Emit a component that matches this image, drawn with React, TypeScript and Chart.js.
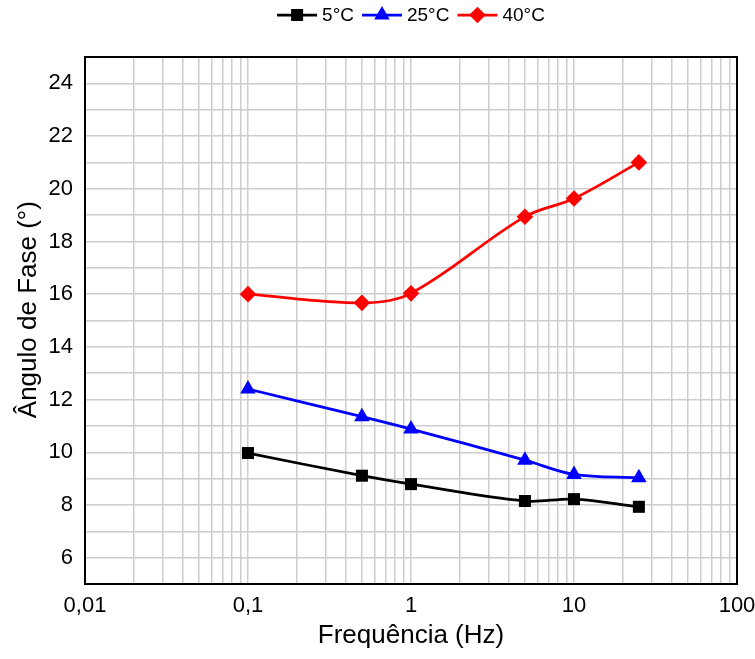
import React, { useEffect, useRef } from "react";
import { Chart, registerables } from "chart.js";

Chart.register(...registerables);

const frequencies = [0.1, 0.5, 1, 5, 10, 25];
const angle5C = [9.97, 9.11, 8.79, 8.15, 8.22, 7.93];
const angle25C = [12.4, 11.35, 10.88, 9.7, 9.16, 9.03];
const angle40C = [16.0, 15.67, 16.03, 18.94, 19.63, 21.0];
const seriesLabels = ["5°C", "25°C", "40°C"];
const xTitle = "Frequência (Hz)";
const yTitle = "Ângulo de Fase (°)";

const FONT = "'Liberation Sans', Arial, sans-serif";
const colors = ["#000000", "#0000ff", "#ff0000"];
const pointStyles = ["rect", "triangle", "rectRot"];
const radii = [8.5, 9, 8.3];

function drawMarker(ctx: CanvasRenderingContext2D, style: string, x: number, y: number, r: number) {
  ctx.beginPath();
  if (style === "rect") {
    const s = Math.SQRT1_2 * r;
    ctx.rect(x - s, y - s, 2 * s, 2 * s);
  } else if (style === "triangle") {
    ctx.moveTo(x, y - r);
    ctx.lineTo(x + r * Math.sin(Math.PI / 3), y + r / 2);
    ctx.lineTo(x - r * Math.sin(Math.PI / 3), y + r / 2);
    ctx.closePath();
  } else {
    ctx.moveTo(x, y - r);
    ctx.lineTo(x + r, y);
    ctx.lineTo(x, y + r);
    ctx.lineTo(x - r, y);
    ctx.closePath();
  }
  ctx.fill();
}

const customLegend = {
  id: "customLegend",
  afterDraw(chart: any) {
    const ctx = chart.ctx as CanvasRenderingContext2D;
    const area = chart.chartArea;
    ctx.save();
    ctx.font = `19px ${FONT}`;
    const lineLen = 40;
    const gapText = 5;
    const gapItem = 8;
    const widths = seriesLabels.map((l) => ctx.measureText(l).width);
    const total = widths.reduce((a, w) => a + lineLen + gapText + w, 0) + gapItem * (seriesLabels.length - 1);
    let x = (area.left + area.right) / 2 - total / 2;
    const y = 15;
    seriesLabels.forEach((label, i) => {
      ctx.strokeStyle = colors[i];
      ctx.fillStyle = colors[i];
      ctx.lineWidth = 2.75;
      ctx.beginPath();
      ctx.moveTo(x, y);
      ctx.lineTo(x + lineLen, y);
      ctx.stroke();
      drawMarker(ctx, pointStyles[i], x + lineLen / 2, y, radii[i]);
      ctx.fillStyle = "#000";
      ctx.textBaseline = "middle";
      ctx.textAlign = "left";
      ctx.fillText(label, x + lineLen + gapText, y + 1);
      x += lineLen + gapText + widths[i] + gapItem;
    });
    ctx.restore();
  },
};

const frameBox = {
  id: "frameBox",
  beforeDatasetsDraw(chart: any) {
    const ctx = chart.ctx as CanvasRenderingContext2D;
    const a = chart.chartArea;
    ctx.save();
    ctx.strokeStyle = "#000";
    ctx.lineWidth = 2;
    ctx.strokeRect(a.left, a.top, a.right - a.left, a.bottom - a.top);
    ctx.restore();
  },
};

export default function App() {
  const ref = useRef<HTMLCanvasElement>(null);

  useEffect(() => {
    document.body.style.margin = "0";
    const canvas = ref.current;
    if (!canvas) return;
    const seriesValues = [angle5C, angle25C, angle40C];
    const chart = new Chart(canvas, {
      type: "line",
      data: {
        datasets: seriesValues.map((vals, i) => ({
          label: seriesLabels[i],
          data: frequencies.map((f, j) => ({ x: f, y: vals[j] })),
          borderColor: colors[i],
          backgroundColor: colors[i],
          borderWidth: 2.75,
          pointStyle: pointStyles[i] as any,
          pointRadius: radii[i],
          pointHoverRadius: radii[i],
          pointBorderWidth: 0,
          tension: 0.35,
          fill: false,
        })),
      },
      options: {
        responsive: false,
        animation: false,
        devicePixelRatio: 1,
        layout: { padding: { top: 57, right: 18, left: 0, bottom: 0 } },
        plugins: {
          legend: { display: false },
          tooltip: { enabled: false },
          title: { display: false },
        },
        scales: {
          x: {
            type: "logarithmic",
            min: 0.01,
            max: 100,
            afterBuildTicks: (scale: any) => {
              const ticks: any[] = [];
              for (let d = -2; d <= 1; d++) {
                for (let m = 1; m <= 9; m++) {
                  ticks.push({ value: Number((m * Math.pow(10, d)).toPrecision(3)) });
                }
              }
              ticks.push({ value: 100 });
              scale.ticks = ticks;
            },
            afterFit: (scale: any) => {
              scale.height = 75;
              scale.paddingLeft = 0;
              scale.paddingRight = 0;
            },
            ticks: {
              autoSkip: false,
              maxRotation: 0,
              minRotation: 0,
              padding: 9,
              color: "#000",
              font: { family: FONT, size: 22 },
              callback: (v: any) => {
                const lg = Math.log10(Number(v));
                if (Math.abs(lg - Math.round(lg)) < 1e-9) {
                  return String(Number(v)).replace(".", ",");
                }
                return "";
              },
            },
            grid: { color: "#cdcdcd", lineWidth: 1.5, drawTicks: false },
            border: { display: false },
            title: {
              display: true,
              text: xTitle,
              color: "#000",
              font: { family: FONT, size: 26 },
              padding: { top: 0, bottom: 8 },
            },
          },
          y: {
            type: "linear",
            min: 5,
            max: 25,
            afterFit: (scale: any) => {
              scale.width = 85;
            },
            ticks: {
              stepSize: 1,
              autoSkip: false,
              padding: 12,
              color: "#000",
              font: { family: FONT, size: 22 },
              callback: (v: any) => {
                const n = Number(v);
                return n % 2 === 0 ? String(n) : "";
              },
            },
            grid: { color: "#cdcdcd", lineWidth: 1.5, drawTicks: false },
            border: { display: false },
            title: {
              display: true,
              text: "\u00a0\u00a0\u00a0" + yTitle,
              color: "#000",
              font: { family: FONT, size: 26 },
              padding: { top: 13, bottom: 0 },
            },
          },
        },
      },
      plugins: [frameBox, customLegend],
    });
    return () => chart.destroy();
  }, []);

  return (
    <div style={{ width: 755, height: 659, background: "#fff" }}>
      <canvas ref={ref} width={755} height={659} style={{ display: "block" }} />
    </div>
  );
}
